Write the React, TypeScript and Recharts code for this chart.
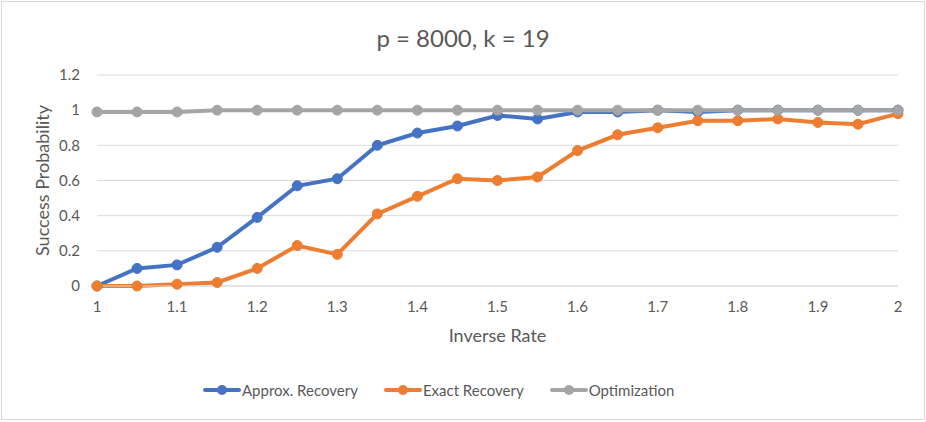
import React from "react";
import { LineChart, Line, XAxis, YAxis, CartesianGrid, Label } from "recharts";

const inverseRate = [1, 1.05, 1.1, 1.15, 1.2, 1.25, 1.3, 1.35, 1.4, 1.45, 1.5, 1.55, 1.6, 1.65, 1.7, 1.75, 1.8, 1.85, 1.9, 1.95, 2];
const approxRecovery = [0, 0.1, 0.12, 0.22, 0.39, 0.57, 0.61, 0.8, 0.87, 0.91, 0.97, 0.95, 0.99, 0.99, 1, 0.99, 1, 1, 1, 1, 1];
const exactRecovery = [0, 0, 0.01, 0.02, 0.1, 0.23, 0.18, 0.41, 0.51, 0.61, 0.6, 0.62, 0.77, 0.86, 0.9, 0.94, 0.94, 0.95, 0.93, 0.92, 0.98];
const optimization = [0.99, 0.99, 0.99, 1, 1, 1, 1, 1, 1, 1, 1, 1, 1, 1, 1, 1, 1, 1, 1, 1, 1];

const xTicks = [1, 1.1, 1.2, 1.3, 1.4, 1.5, 1.6, 1.7, 1.8, 1.9, 2];
const yTicks = [0, 0.2, 0.4, 0.6, 0.8, 1, 1.2];

const data = inverseRate.map((x, i) => ({
    rate: x,
    approx: approxRecovery[i],
    exact: exactRecovery[i],
    opt: optimization[i],
}));

const series = [
    { key: "approx", name: "Approx. Recovery", color: "#4472C4" },
    { key: "exact", name: "Exact Recovery", color: "#ED7D31" },
    { key: "opt", name: "Optimization", color: "#A5A5A5" },
];

const FONT = "Lato, 'Open Sans', sans-serif";
const TEXT = "#595959";

const App: React.FC = () => {
    return (
        <div
            style={{
                position: "absolute",
                left: 0,
                top: 0,
                width: 926,
                height: 422,
                background: "#fff",
                fontFamily: FONT,
            }}
        >
            <div
                style={{
                    position: "absolute",
                    left: 1,
                    top: 1,
                    width: 922,
                    height: 417,
                    border: "1px solid #d9d9d9",
                }}
            />
            <div
                style={{
                    position: "absolute",
                    top: 23,
                    left: 0,
                    width: 926,
                    textAlign: "center",
                    fontSize: 24,
                    lineHeight: "30px",
                    color: TEXT,
                }}
            >
                p = 8000, k = 19
            </div>
            <LineChart
                width={926}
                height={422}
                data={data}
                margin={{ top: 75, right: 28, bottom: 66, left: 37 }}
                style={{ position: "absolute", left: 0, top: 0, fontFamily: FONT }}
            >
                <CartesianGrid vertical={false} stroke="#d9d9d9" strokeWidth={1} />
                <XAxis
                    dataKey="rate"
                    type="number"
                    domain={[1, 2]}
                    ticks={xTicks}
                    height={70}
                    tickSize={0}
                    tickMargin={15}
                    axisLine={{ stroke: "#d9d9d9" }}
                    tick={{ fill: TEXT, fontSize: 15 }}
                >
                    <Label
                        value="Inverse Rate"
                        position="insideBottom"
                        offset={14}
                        style={{ fill: TEXT, fontSize: 18 }}
                    />
                </XAxis>
                <YAxis
                    domain={[0, 1.2]}
                    ticks={yTicks}
                    width={60}
                    tickSize={0}
                    tickMargin={17}
                    axisLine={false}
                    tick={{ fill: TEXT, fontSize: 15 }}
                >
                    <Label
                        content={({ viewBox }: any) => {
                            const cy = viewBox.y + viewBox.height / 2;
                            return (
                                <text
                                    x={42}
                                    y={cy}
                                    transform={`rotate(-90 42 ${cy})`}
                                    textAnchor="middle"
                                    dominantBaseline="central"
                                    fill={TEXT}
                                    fontSize={18}
                                >
                                    Success Probability
                                </text>
                            );
                        }}
                    />
                </YAxis>
                {series.map((s) => (
                    <Line
                        key={s.key}
                        dataKey={s.key}
                        name={s.name}
                        type="linear"
                        stroke={s.color}
                        strokeWidth={4}
                        dot={{ r: 5, fill: s.color, stroke: s.color, strokeWidth: 1 }}
                        activeDot={false}
                        isAnimationActive={false}
                    />
                ))}
            </LineChart>
            <div
                style={{
                    position: "absolute",
                    top: 381,
                    left: 203,
                    display: "flex",
                    gap: 26,
                    fontSize: 15,
                    color: TEXT,
                }}
            >
                {series.map((s) => (
                    <div key={s.key} style={{ display: "flex", alignItems: "center" }}>
                        <svg width={38} height={14} style={{ marginRight: 1 }}>
                            <line x1={2} y1={7} x2={36} y2={7} stroke={s.color} strokeWidth={4} strokeLinecap="round" />
                            <circle cx={19} cy={7} r={5} fill={s.color} />
                        </svg>
                        <span>{s.name}</span>
                    </div>
                ))}
            </div>
        </div>
    );
};

export default App;
